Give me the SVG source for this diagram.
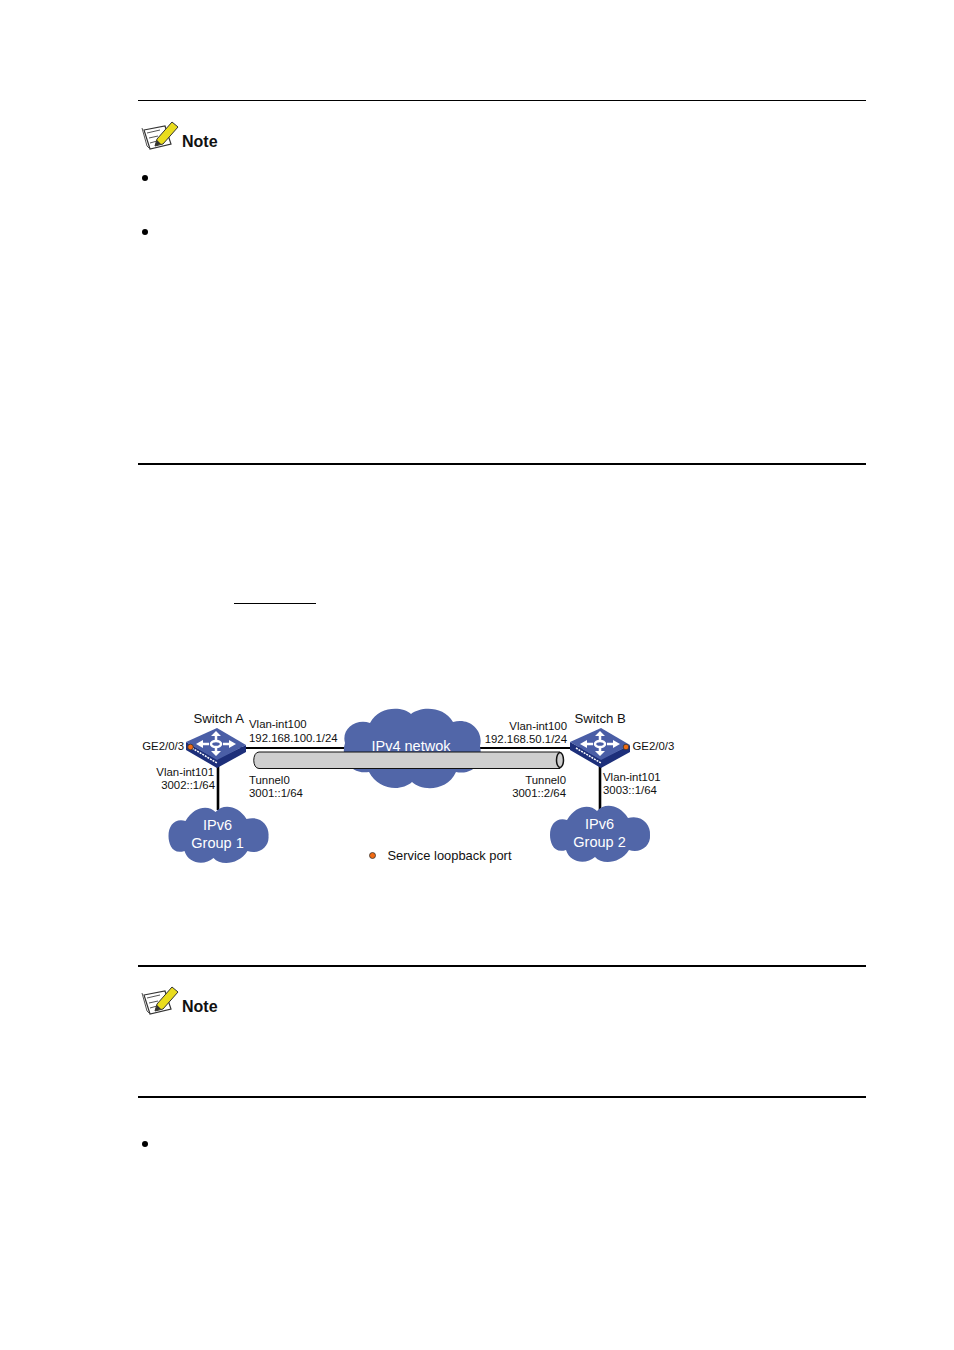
<svg xmlns="http://www.w3.org/2000/svg" width="954" height="1350" viewBox="0 0 954 1350">
<style>
text{font-family:"Liberation Sans",Arial,sans-serif;fill:#111}
.l{font-size:11.4px}
.s{font-size:13.200px}
.c{font-size:14.500px;fill:#fff;text-anchor:middle}
.n{font-size:16px;font-weight:bold}
.cl{fill:#5166a8}
.e{text-anchor:end}
.w{stroke:#000;stroke-width:2.600;fill:none}
</style>
<defs>
<g id="cloud"><path class="cl" d="M-33-14C-24-29-10-30-3-23C5-32 20-29 28-16C42-20 51-9 50 1C51 12 40 20 29 16C20 30 2 31-5 23C-14 31-30 29-34 16C-46 20-50 9-50 1C-50-9-44-17-33-14Z"/></g>
<g id="switch">
<path d="M-30-1L1 16L30 2L30 9L1 25L-30 7Z" fill="#1d2f7a"/>
<path d="M-30-1L1-15L30 2L1 17Z" fill="#4a5ea6"/>
<path d="M-24 5L1 20" stroke="#fff" stroke-width="1.500" stroke-dasharray="2 1" fill="none"/>
<g stroke="#fff" stroke-width="2.500" fill="none"><ellipse cx="0" cy="1" rx="5" ry="3"/><path d="M0-10V-3M0 5V11M-17 1H-7M7 1H17"/></g>
<g fill="#fff"><path d="M-5-7L0-12L5-7ZM-5 8L0 13L5 8ZM-13-3L-20 1L-13 5ZM13-3L20 1L13 5Z"/></g>
</g>
<g id="note">
<path d="M144 130L165 126L171 144L150 149Z" fill="#fff" stroke="#333" stroke-width="1.200"/>
<path d="M142 128L147 146L150 149M147 133L160 130M149 138L158 136M150 143L157 141" stroke="#555" fill="none"/>
<path d="M157 139L172 122L178 127L163 144L155 146Z" fill="#e9dc1e" stroke="#333"/>
<path d="M155 146L157 140L161 144Z" fill="#333"/>
<text class="n" x="182" y="147">Note</text>
</g>
</defs>
<g id="rules">
<path d="M138 100.500H866" stroke="#000" fill="none"/>
<path d="M138 464H866M138 966H866M138 1097H866" stroke="#000" stroke-width="2" fill="none"/>
<path d="M234 603.500H316" stroke="#000" fill="none"/>
</g>
<use href="#note"/>
<use href="#note" y="865"/>
<g id="bullets" fill="#000"><circle cx="145" cy="178" r="3"/><circle cx="145" cy="232" r="3"/><circle cx="145" cy="1144" r="3"/></g>
<g id="connectors">
<path d="M240 748H590" stroke="#000" stroke-width="2" fill="none"/>
<path class="w" d="M218 760V810M600 760V810"/>
</g>
<g id="ipv4"><path class="cl" d="M345 743C341 729 356 718 370 723C379 706 402 706 411 714C421 706 444 706 453 722C469 717 484 730 480 746C484 766 470 775 456 772C447 792 421 791 412 782C401 792 378 790 369 772C351 775 340 759 345 743Z"/><text class="c" x="411" y="751">IPv4 netwok</text></g>
<g id="tunnel"><path d="M259 752H560V768.500H259C252 768.500 252 752 259 752Z" fill="#cfcfcf" stroke="#111"/><ellipse cx="560" cy="760" rx="3.500" ry="7.500" fill="#cfcfcf" stroke="#111" stroke-width="1.500"/></g>
<g id="switch-a"><use href="#switch" x="216" y="743"/><circle cx="190.500" cy="747" r="2.800" fill="#f26a12" stroke="#333" stroke-width=".8"/><text class="s" x="193.500" y="723">Switch A</text></g>
<g id="switch-b"><use href="#switch" x="600" y="743"/><circle cx="626" cy="747" r="2.800" fill="#f26a12" stroke="#333" stroke-width=".8"/><text class="s" x="574.500" y="723">Switch B</text></g>
<g id="group-1"><use href="#cloud" x="218.500" y="835"/><text class="c" x="217.500" y="830">IPv6</text><text class="c" x="217.500" y="848">Group 1</text></g>
<g id="group-2"><use href="#cloud" x="600" y="834"/><text class="c" x="599.500" y="829">IPv6</text><text class="c" x="599.500" y="847">Group 2</text></g>
<g id="labels">
<text class="l" x="249" y="728">Vlan-int100</text>
<text class="l" x="249" y="742">192.168.100.1/24</text>
<text class="l e" x="567" y="730">Vlan-int100</text>
<text class="l e" x="567" y="743">192.168.50.1/24</text>
<text class="l e" x="184" y="750">GE2/0/3</text>
<text class="l" x="632.500" y="750">GE2/0/3</text>
<text class="l e" x="214" y="776">Vlan-int101</text>
<text class="l e" x="215" y="789">3002::1/64</text>
<text class="l" x="249" y="784">Tunnel0</text>
<text class="l" x="249" y="797">3001::1/64</text>
<text class="l e" x="566" y="784">Tunnel0</text>
<text class="l e" x="566" y="797">3001::2/64</text>
<text class="l" x="603" y="781">Vlan-int101</text>
<text class="l" x="603" y="794">3003::1/64</text>
</g>
<g id="legend"><circle cx="372.500" cy="855.500" r="3" fill="#f26a12" stroke="#333" stroke-width=".8"/><text class="s" style="font-size:12.900px" x="387.500" y="860">Service loopback port</text></g>
</svg>
